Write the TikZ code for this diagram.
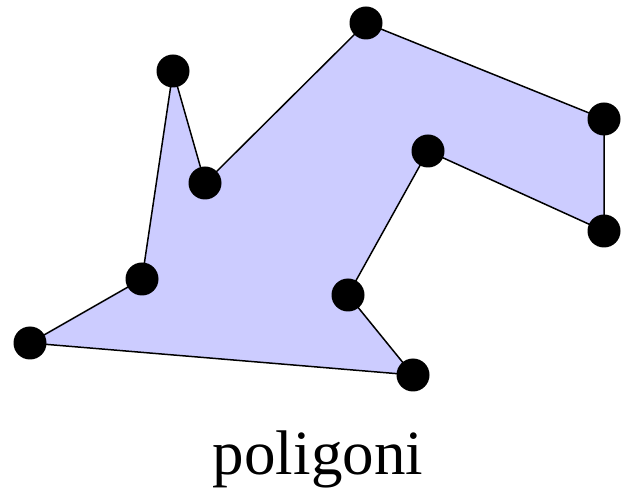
\documentclass[tikz,border=0pt]{standalone}
\usepackage{fontspec}
\setmainfont{Liberation Serif}
\begin{document}
\begin{tikzpicture}[x=1pt,y=-1pt,
  vtx/.style={circle,fill=black,inner sep=0pt,minimum size=33pt},
  edge/.style={draw=black,line width=1.5pt,line join=round}]
\useasboundingbox (0,0) rectangle (622,494);
\coordinate (p1) at (173,71);
\coordinate (p2) at (205,183);
\coordinate (p3) at (366,23);
\coordinate (p4) at (604,119);
\coordinate (p5) at (604,231);
\coordinate (p6) at (428,151);
\coordinate (p7) at (348,295);
\coordinate (p8) at (413,375);
\coordinate (p9) at (30,343);
\coordinate (p10) at (142,279);
\fill[blue!20] (p9) -- (p10) -- (p1) -- (p2) -- (p3) -- (p4) -- (p5) -- (p6) -- (p7) -- (p8) -- cycle;
\draw[edge] (p9) -- (p10) -- (p1) -- (p2) -- (p3) -- (p4) -- (p5) -- (p6) -- (p7) -- (p8) -- cycle;
\foreach \i in {1,...,10} \node[vtx] (v\i) at (p\i) {};
\node[font=\fontsize{63}{70}\selectfont,anchor=base] (lbl) at (318,475) {poligoni};
\end{tikzpicture}
\end{document}
